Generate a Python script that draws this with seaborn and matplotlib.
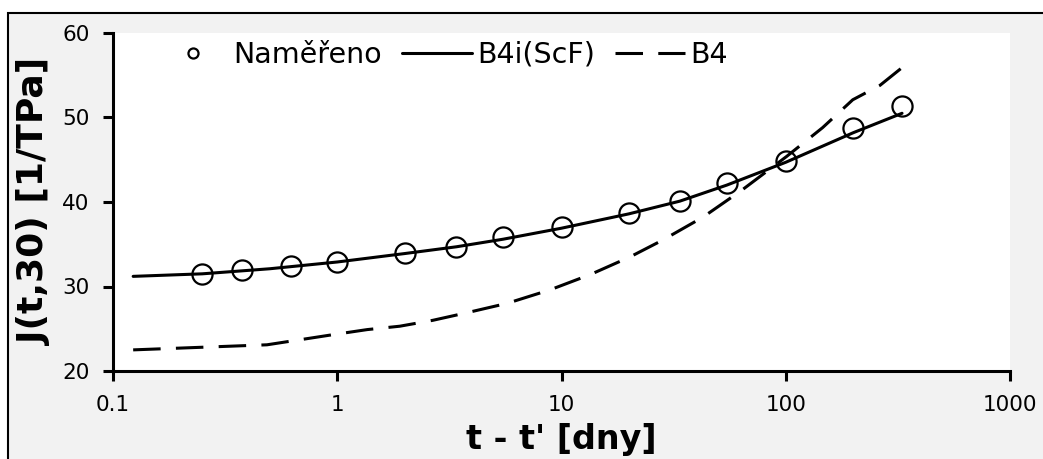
import matplotlib
matplotlib.use("Agg")
import matplotlib.pyplot as plt
from matplotlib.patches import Rectangle
import seaborn as sns

# measured creep compliance
t_meas = [0.25, 0.375, 0.62, 1, 2, 3.4, 5.5, 10, 20, 33.7, 54.6, 100, 200, 330]
j_meas = [31.5, 31.9, 32.4, 32.9, 34.0, 34.7, 35.8, 37.0, 38.7, 40.1, 42.2, 44.8, 48.8, 51.4]

# B4i(ScF) model
t_b4i = [0.123, 0.25, 0.5, 1, 2, 3.4, 5.5, 10, 20, 33.7, 54.6, 100, 200, 330]
j_b4i = [31.2, 31.5, 32.1, 32.9, 33.9, 34.7, 35.6, 36.9, 38.6, 40.1, 42.0, 44.7, 48.2, 50.5]

# B4 model
t_b4 = [0.123, 0.244, 0.486, 0.957, 1.36, 1.9, 2.67, 3.79, 5.71, 8.88, 13.4, 20.2,
        28.3, 42.7, 63.7, 101, 146, 199, 263, 330]
j_b4 = [22.5, 22.8, 23.1, 24.3, 24.9, 25.3, 26.0, 26.9, 28.0, 29.6, 31.4, 33.5,
        35.5, 38.2, 41.4, 45.4, 48.8, 52.1, 53.8, 55.9]

x_ticks = [0.1, 1, 10, 100, 1000]
x_labels = ["0.1", "1", "10", "100", "1000"]
y_ticks = [20, 30, 40, 50, 60]

sns.set_style("ticks")
plt.rcParams['font.family'] = ['DejaVu Sans']
plt.rcParams.update({"text.color": "black", "axes.labelcolor": "black",
                     "xtick.color": "black", "ytick.color": "black"})

fig = plt.figure(figsize=(10.43, 4.59), dpi=100, facecolor="white")
fig.add_artist(Rectangle((8 / 1043, -0.05), 1.1, 1 - 13 / 459 + 0.05,
                         transform=fig.transFigure, facecolor="#f2f2f2",
                         edgecolor="black", lw=1.5, zorder=-1))
ax = fig.add_axes([113 / 1043, 1 - 371 / 459, 897 / 1043, 338 / 459])
ax.set_facecolor("white")

sns.lineplot(x=t_meas, y=j_meas, ax=ax, color="black", marker="o", linestyle="none",
             markersize=14.5, markerfacecolor="none", markeredgecolor="black",
             markeredgewidth=1.6, estimator=None, sort=False, label="Naměřeno")
sns.lineplot(x=t_b4i, y=j_b4i, ax=ax, color="black", lw=2.2,
             estimator=None, sort=False, label="B4i(ScF)")
sns.lineplot(x=t_b4, y=j_b4, ax=ax, color="black", lw=2.2, linestyle=(0, (9, 5)),
             estimator=None, sort=False, label="B4")

ax.set_xscale("log")
ax.set_xlim(0.1, 1000)
ax.set_ylim(20, 60)
ax.set_xticks(x_ticks)
ax.set_xticklabels(x_labels)
ax.set_yticks(y_ticks)
ax.minorticks_off()
ax.tick_params(axis="both", labelsize=15.5, width=2.2, length=7, pad=10, color="black")

sns.despine(ax=ax)
for side in ["left", "bottom"]:
    ax.spines[side].set_linewidth(2.2)
    ax.spines[side].set_color("black")

ax.set_xlabel("t - t' [dny]", fontsize=24, fontweight="bold", labelpad=6)
ax.set_ylabel("J(t,30) [1/TPa]", fontsize=26, fontweight="bold", labelpad=7)

handles = ax.get_lines()
leg = ax.legend(handles=list(handles), labels=["Naměřeno", "B4i(ScF)", "B4"],
                ncol=3, frameon=False, fontsize=20.5, markerscale=0.5,
                loc="center left", bbox_to_anchor=(0.05, 0.935),
                borderaxespad=0, borderpad=0, handlelength=2.45,
                handletextpad=0.2, columnspacing=0.7)

fig.savefig("out.png", dpi=100, facecolor=fig.get_facecolor())
